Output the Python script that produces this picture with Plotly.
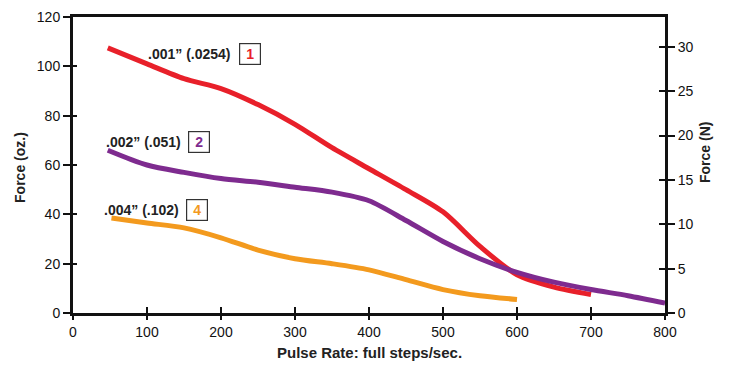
import plotly.graph_objects as go

OZ_PER_N = 3.59694

x1 = [47, 100, 150, 200, 250, 300, 350, 400, 450, 500, 550, 600, 650, 700]
y1 = [107.5, 101, 95, 91, 84.5, 76.5, 67, 58.5, 50, 41, 27, 15.5, 10.5, 7.5]

x2 = [47, 100, 150, 200, 250, 300, 350, 400, 450, 500, 550, 600, 650, 700, 750, 800]
y2 = [66, 60, 57, 54.5, 53, 51, 49, 45.5, 37.5, 29, 22, 16.5, 12.5, 9.5, 7, 4]

x4 = [52, 100, 150, 200, 250, 300, 350, 400, 450, 500, 550, 600]
y4 = [38.5, 36.5, 34.5, 30.5, 25.5, 22, 20, 17.5, 13.5, 9.5, 7, 5.5]

colors = ["#E8202A", "#7E2B8F", "#F39A1E"]
labels = [".001\u201d (.0254)", ".002\u201d (.051)", ".004\u201d (.102)"]
box_texts = ["1", "2", "4"]
label_x = [158, 95, 93]
label_y = [105, 69.3, 41.7]
box_x = [239, 170, 168]

x_ticks = [0, 100, 200, 300, 400, 500, 600, 700, 800]
y_ticks = [0, 20, 40, 60, 80, 100, 120]
n_ticks = [0, 5, 10, 15, 20, 25, 30]

FONT = "Liberation Sans, Arial, sans-serif"
W, H = 729, 368
L, R, T, B = 65, 72, 9, 63
PW, PH = W - L - R, H - T - B

fig = go.Figure()
for xs, ys, col in zip([x1, x2, x4], [y1, y2, y4], colors):
    fig.add_trace(go.Scatter(x=xs, y=ys, mode="lines",
                             line=dict(color=col, width=5, shape="spline", smoothing=0.8),
                             showlegend=False, hoverinfo="skip"))

for lab, lx, ly, bt, bx, col in zip(labels, label_x, label_y, box_texts, box_x, colors):
    fig.add_annotation(x=lx, y=ly, text="<b>" + lab + "</b>", showarrow=False,
                       xanchor="center", yanchor="middle",
                       font=dict(family=FONT, size=14, color="#222"))
    fig.add_annotation(x=bx, y=ly, text="<b>" + bt + "</b>", showarrow=False,
                       font=dict(family=FONT, size=14, color=col),
                       bordercolor="#333", borderwidth=1.2, borderpad=2,
                       bgcolor="white", width=16, xanchor="center", yanchor="middle")

# axis titles
fig.add_annotation(xref="paper", yref="paper", x=0.5, y=-29 / PH,
                   text="<b>Pulse Rate: full steps/sec.</b>", showarrow=False,
                   xanchor="center", yanchor="top",
                   font=dict(family=FONT, size=15, color="#222"))
fig.add_annotation(xref="paper", yref="paper", x=-53 / PW, y=0.49,
                   text="<b>Force (oz.)</b>", showarrow=False, textangle=-90,
                   xanchor="center", yanchor="middle",
                   font=dict(family=FONT, size=14, color="#222"))
fig.add_annotation(xref="paper", yref="paper", x=1 + 40 / PW, y=(313 - 153) / PH,
                   text="<b>Force (N)</b>", showarrow=False, textangle=-90,
                   xanchor="center", yanchor="middle",
                   font=dict(family=FONT, size=14, color="#222"))

# helper traces for secondary axes
fig.add_trace(go.Scatter(x=[0], y=[0], yaxis="y2", mode="markers",
                         marker=dict(opacity=0), showlegend=False, hoverinfo="skip"))
fig.add_trace(go.Scatter(x=[0], y=[0], xaxis="x2", yaxis="y3", mode="markers",
                         marker=dict(opacity=0), showlegend=False, hoverinfo="skip"))
fig.add_trace(go.Scatter(x=[0], y=[0], yaxis="y4", mode="markers",
                         marker=dict(opacity=0), showlegend=False, hoverinfo="skip"))

tick_common = dict(tickwidth=2, tickcolor="#111", showgrid=False, zeroline=False,
                   automargin=False)

fig.update_layout(
    width=W, height=H,
    margin=dict(l=L, r=R, t=T, b=B),
    plot_bgcolor="white", paper_bgcolor="white",
    font=dict(family=FONT, size=14, color="#111"),
    xaxis=dict(range=[0, 800], tickvals=x_ticks, ticks="outside", ticklen=4,
               showline=True, linewidth=3, linecolor="#111", mirror=True,
               tickfont=dict(size=14), **tick_common),
    xaxis2=dict(range=[0, 800], overlaying="x", tickvals=x_ticks, ticks="inside",
                ticklen=6, showticklabels=False, side="bottom", **tick_common),
    yaxis=dict(range=[0, 120], tickvals=y_ticks, ticks="outside", ticklen=7,
               showline=True, linewidth=3, linecolor="#111",
               tickfont=dict(size=14), **tick_common),
    yaxis4=dict(range=[0, 120], overlaying="y", side="left", tickvals=y_ticks,
                ticks="inside", ticklen=4, showticklabels=False, **tick_common),
    yaxis2=dict(range=[0, 120 / OZ_PER_N], overlaying="y", side="right",
                tickvals=n_ticks, ticks="outside", ticklen=7,
                showline=True, linewidth=3, linecolor="#111",
                tickfont=dict(size=14), **tick_common),
    yaxis3=dict(range=[0, 120 / OZ_PER_N], overlaying="y", side="right",
                tickvals=n_ticks, ticks="inside", ticklen=6,
                showticklabels=False, showline=False, **tick_common),
)

fig.write_html("out.html")
